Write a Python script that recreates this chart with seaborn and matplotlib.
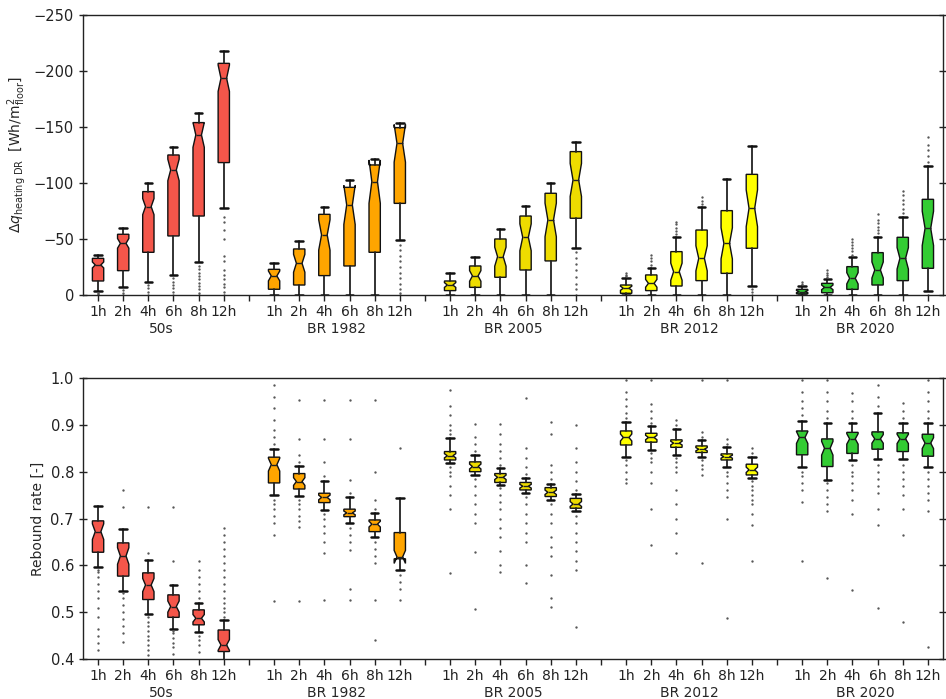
import numpy as np
import matplotlib
matplotlib.use("Agg")
import matplotlib.pyplot as plt
import seaborn as sns

# ---------------- data ----------------
groups = ["50s", "BR 1982", "BR 2005", "BR 2012", "BR 2020"]
durations = ["1h", "2h", "4h", "6h", "8h", "12h"]
group_colors = ["#F4564A", "#FFA500", "#EEDC00", "#FFFF00", "#33CC33"]

# Top panel: delta q heating DR [Wh/m2 floor] (order: group, then duration)
dq_lo = [-35.7, -60.1, -99.7, -132.4, -162.2, -218.2,
         -28.3, -48.5, -78.9, -102.7, -121.4, -153.9,
         -19.9, -34.2, -58.6, -79.8, -100.0, -136.3,
         -14.9, -24.4, -51.5, -78.9, -103.3, -133.0,
         -8.0, -14.0, -33.6, -52.1, -69.3, -115.2]
dq_q1 = [-32.7, -54.2, -92.3, -125.0, -153.9, -206.8,
         -22.9, -41.1, -72.0, -96.1, -116.1, -149.4,
         -12.5, -25.9, -50.0, -70.5, -90.8, -128.0,
         -8.9, -17.9, -38.7, -58.0, -75.3, -107.7,
         -5.0, -10.4, -25.3, -37.8, -51.5, -85.4]
dq_med = [-26.8, -46.1, -78.9, -111.6, -142.9, -193.5,
          -17.0, -28.3, -53.6, -80.4, -101.2, -135.4,
          -8.9, -17.0, -34.2, -51.5, -67.0, -102.7,
          -6.0, -10.4, -20.8, -32.7, -46.1, -77.4,
          -3.0, -6.8, -14.9, -22.3, -32.7, -59.5]
dq_q3 = [-12.5, -21.7, -38.1, -52.7, -70.5, -118.2,
         -5.1, -8.9, -17.3, -25.9, -38.1, -81.8,
         -3.9, -6.8, -15.8, -22.3, -30.4, -68.5,
         -1.5, -3.9, -8.0, -12.8, -19.3, -41.7,
         -1.0, -2.0, -5.0, -8.9, -12.8, -23.8]
dq_hi = [-3.9, -6.8, -11.9, -17.9, -29.8, -77.4,
         0.0, 0.0, 0.0, 0.0, 0.0, -49.1,
         0.0, 0.0, 0.0, 0.0, 0.0, -41.7,
         0.0, 0.0, 0.0, 0.0, 0.0, -8.0,
         0.0, 0.0, 0.0, 0.0, 0.0, -3.9]
dq_fliers = [
    [0, -1, -2], [0, -2, -4], [0, -3, -6, -9], [0, -3, -6, -9, -12, -15],
    [0, -2, -5, -8, -11, -14, -17, -20, -23, -26],
    [0, -3, -7, -10, -14, -18, -22, -30, -35, -50, -58, -65, -70],
    [], [], [], [], [], [-45, -40, -35, -30, -25, -20, -15, -10, -5, -2, 0],
    [], [], [], [], [], [-38, -33, -28, -22, -16, -10, -5, 0],
    [-16.5, -18, -19.3], [-27, -30, -33, -35.7], [-54, -57, -60, -63, -65.5],
    [-81, -84, -87.8], [], [-5, -3, 0],
    [-10, -12], [-16, -18, -20, -22.3], [-36, -39, -42, -45, -47, -49.7],
    [-55, -58, -61, -64, -67, -72], [-73, -77, -81, -85, -89, -93],
    [-119, -124, -129, -134, -141.4, 0],
]
dq_n = [140, 40, 40, 40, 40]

# Bottom panel: rebound rate [-]
rr_lo = [0.597, 0.545, 0.497, 0.465, 0.458, 0.370,
         0.750, 0.748, 0.718, 0.690, 0.661, 0.590,
         0.818, 0.793, 0.772, 0.754, 0.739, 0.715,
         0.832, 0.846, 0.836, 0.832, 0.811, 0.786,
         0.811, 0.782, 0.825, 0.828, 0.828, 0.811]
rr_q1 = [0.628, 0.577, 0.527, 0.489, 0.473, 0.416,
         0.776, 0.763, 0.734, 0.704, 0.672, 0.614,
         0.825, 0.800, 0.777, 0.761, 0.747, 0.722,
         0.857, 0.863, 0.852, 0.841, 0.825, 0.793,
         0.836, 0.811, 0.839, 0.848, 0.843, 0.833]
rr_med = [0.672, 0.620, 0.558, 0.512, 0.487, 0.430,
          0.815, 0.779, 0.745, 0.712, 0.688, 0.618,
          0.834, 0.811, 0.788, 0.769, 0.756, 0.731,
          0.873, 0.873, 0.861, 0.848, 0.832, 0.804,
          0.873, 0.850, 0.870, 0.870, 0.870, 0.861]
rr_q3 = [0.695, 0.648, 0.584, 0.537, 0.505, 0.462,
         0.831, 0.796, 0.754, 0.720, 0.697, 0.670,
         0.843, 0.821, 0.796, 0.777, 0.766, 0.743,
         0.887, 0.882, 0.868, 0.855, 0.838, 0.816,
         0.887, 0.870, 0.884, 0.885, 0.883, 0.880]
rr_hi = [0.727, 0.677, 0.611, 0.557, 0.519, 0.483,
         0.848, 0.812, 0.780, 0.747, 0.712, 0.744,
         0.871, 0.836, 0.807, 0.786, 0.774, 0.752,
         0.907, 0.898, 0.892, 0.868, 0.852, 0.832,
         0.908, 0.903, 0.905, 0.925, 0.905, 0.903]
rr_fliers = [
    [0.59, 0.585, 0.575, 0.56, 0.545, 0.53, 0.51, 0.49, 0.465, 0.45, 0.435, 0.419],
    [0.725, 0.76, 0.54, 0.53, 0.515, 0.5, 0.485, 0.47, 0.455, 0.437],
    [0.725, 0.627, 0.49, 0.48, 0.47, 0.46, 0.45, 0.44, 0.43, 0.42, 0.408],
    [0.725, 0.609, 0.46, 0.455, 0.445, 0.435, 0.425, 0.41],
    [0.61, 0.59, 0.575, 0.56, 0.545, 0.53, 0.45, 0.44, 0.43, 0.415],
    [0.49, 0.5, 0.51, 0.52, 0.53, 0.545, 0.56, 0.575, 0.59, 0.605, 0.62, 0.635, 0.65, 0.665, 0.68],
    [0.86, 0.875, 0.89, 0.91, 0.935, 0.96, 0.985, 0.74, 0.73, 0.72, 0.705, 0.69, 0.665, 0.524],
    [0.82, 0.835, 0.87, 0.952, 0.74, 0.73, 0.72, 0.705, 0.695, 0.682, 0.524],
    [0.79, 0.82, 0.87, 0.953, 0.71, 0.70, 0.685, 0.67, 0.65, 0.627, 0.525],
    [0.755, 0.782, 0.87, 0.953, 0.68, 0.665, 0.65, 0.633, 0.549, 0.526],
    [0.72, 0.739, 0.80, 0.953, 0.65, 0.635, 0.62, 0.604, 0.526, 0.441],
    [0.85, 0.58, 0.565, 0.55, 0.527],
    [0.88, 0.89, 0.90, 0.92, 0.94, 0.974, 0.81, 0.80, 0.79, 0.77, 0.75, 0.72, 0.583],
    [0.845, 0.86, 0.875, 0.902, 0.785, 0.77, 0.75, 0.73, 0.71, 0.69, 0.629, 0.506],
    [0.815, 0.83, 0.845, 0.86, 0.88, 0.902, 0.765, 0.75, 0.735, 0.72, 0.70, 0.68, 0.66, 0.63, 0.60, 0.586],
    [0.795, 0.81, 0.83, 0.85, 0.957, 0.745, 0.73, 0.71, 0.69, 0.67, 0.65, 0.60, 0.562],
    [0.785, 0.80, 0.815, 0.88, 0.907, 0.73, 0.71, 0.69, 0.66, 0.64, 0.62, 0.58, 0.53, 0.512],
    [0.76, 0.78, 0.80, 0.82, 0.85, 0.90, 0.705, 0.69, 0.67, 0.65, 0.63, 0.61, 0.59, 0.469],
    [0.915, 0.925, 0.94, 0.955, 0.97, 0.996, 0.825, 0.815, 0.80, 0.785, 0.775],
    [0.905, 0.915, 0.93, 0.945, 0.996, 0.84, 0.83, 0.82, 0.80, 0.775, 0.72, 0.643],
    [0.90, 0.91, 0.83, 0.82, 0.81, 0.80, 0.76, 0.73, 0.70, 0.67, 0.626],
    [0.875, 0.885, 0.996, 0.825, 0.815, 0.805, 0.793, 0.604],
    [0.86, 0.87, 0.996, 0.80, 0.79, 0.775, 0.76, 0.747, 0.70, 0.487],
    [0.84, 0.85, 0.78, 0.77, 0.76, 0.75, 0.74, 0.73, 0.71, 0.686, 0.61],
    [0.92, 0.935, 0.95, 0.97, 0.996, 0.80, 0.79, 0.775, 0.76, 0.736, 0.61],
    [0.915, 0.93, 0.95, 0.97, 0.996, 0.775, 0.76, 0.745, 0.73, 0.715, 0.574],
    [0.915, 0.93, 0.95, 0.967, 0.815, 0.80, 0.79, 0.775, 0.76, 0.74, 0.71, 0.547],
    [0.94, 0.96, 0.985, 0.815, 0.80, 0.785, 0.77, 0.755, 0.72, 0.686, 0.508],
    [0.915, 0.93, 0.946, 0.815, 0.80, 0.785, 0.77, 0.75, 0.72, 0.665, 0.48],
    [0.915, 0.93, 0.95, 0.97, 0.996, 0.80, 0.785, 0.77, 0.755, 0.74, 0.715, 0.425],
]
rr_n = [40, 40, 40, 40, 40]

# ---------------- style ----------------
sns.set_theme(style="ticks", rc={
    "axes.edgecolor": "#222222",
    "axes.linewidth": 1.0,
    "xtick.color": "#222222",
    "ytick.color": "#222222",
})
plt.rcParams["font.family"] = ["DejaVu Sans"]
plt.rcParams["font.size"] = 10

fig = plt.figure(figsize=(9.46, 6.99), dpi=100)
ax_top = fig.add_axes([0.0877, 0.578, 0.9091, 0.4006])
ax_bot = fig.add_axes([0.0877, 0.0572, 0.9091, 0.402])

n_grp = len(groups)
n_dur = len(durations)
positions = [g * (n_dur + 1) + i + 1 for g in range(n_grp) for i in range(n_dur)]
all_ticks = list(range(1, n_grp * (n_dur + 1)))
tick_labels = ["" if (t % (n_dur + 1) == 0) else durations[(t - 1) % (n_dur + 1)]
               for t in all_ticks]


def draw_panel(ax, lo, q1, med, q3, hi, fliers, n_per_group):
    stats = []
    for k in range(len(med)):
        g = k // n_dur
        iqr = abs(q3[k] - q1[k])
        half = 1.57 * iqr / np.sqrt(n_per_group[g])
        stats.append(dict(med=med[k], q1=q1[k], q3=q3[k], whislo=lo[k], whishi=hi[k],
                          fliers=np.array(fliers[k], dtype=float),
                          cilo=med[k] - half, cihi=med[k] + half))
    art = ax.bxp(stats, positions=positions, widths=0.45, capwidths=0.3,
                 shownotches=True, patch_artist=True, manage_ticks=False,
                 boxprops=dict(edgecolor="#111111", linewidth=1.0),
                 medianprops=dict(color="#222222", linewidth=1.0),
                 whiskerprops=dict(color="#222222", linewidth=1.3),
                 capprops=dict(color="#111111", linewidth=1.8),
                 flierprops=dict(marker=".", markersize=1.4, markerfacecolor="#555555",
                                 markeredgecolor="#555555", linestyle="none"))
    for k, box in enumerate(art["boxes"]):
        box.set_facecolor(group_colors[k // n_dur])

    ax.set_xlim(0.4, n_grp * (n_dur + 1) - 0.4)
    ax.set_xticks(all_ticks)
    ax.set_xticklabels(tick_labels, fontsize=10)
    ax.tick_params(axis="x", direction="out", length=4, width=1, pad=3)
    ax.tick_params(axis="y", direction="inout", length=6, width=1, right=True,
                   labelsize=10.5)
    for s in ax.spines.values():
        s.set_visible(True)
        s.set_color("#222222")
    h_px = ax.get_position().height * fig.get_figheight() * fig.dpi
    for g, name in enumerate(groups):
        ax.text(g * (n_dur + 1) + 3.5, -34.0 / h_px, name, ha="center", va="center",
                fontsize=10, transform=ax.get_xaxis_transform())


draw_panel(ax_top, dq_lo, dq_q1, dq_med, dq_q3, dq_hi, dq_fliers, dq_n)
ax_top.set_ylim(0, -250)
ax_top.set_yticks([0, -50, -100, -150, -200, -250])
ax_top.set_ylabel(r"$\Delta q_{\mathrm{heating\ DR}}$  [Wh/m$^2_{\mathrm{floor}}$]", fontsize=10)

draw_panel(ax_bot, rr_lo, rr_q1, rr_med, rr_q3, rr_hi, rr_fliers, rr_n)
ax_bot.set_ylim(0.4, 1.0)
ax_bot.set_yticks([0.4, 0.5, 0.6, 0.7, 0.8, 0.9, 1.0])
ax_bot.set_yticklabels(["0.4", "0.5", "0.6", "0.7", "0.8", "0.9", "1.0"])
ax_bot.set_ylabel("Rebound rate [-]", fontsize=10)

fig.savefig("out.png", dpi=100, facecolor="white")
